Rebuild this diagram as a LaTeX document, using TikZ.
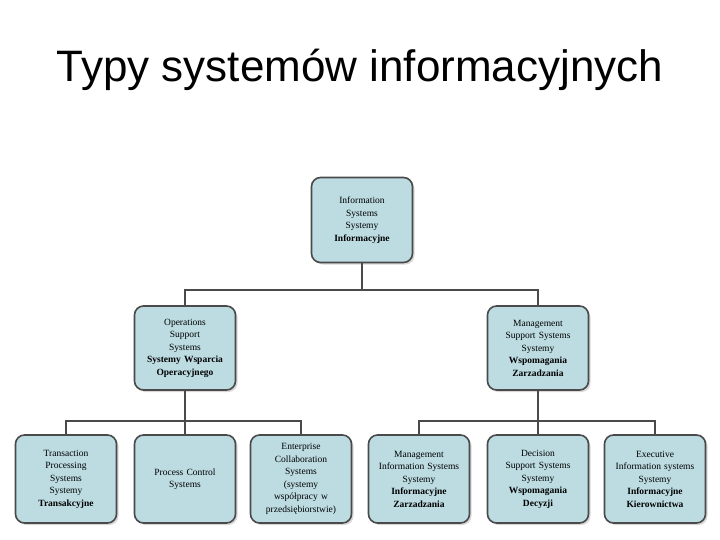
\documentclass[tikz,border=0pt]{standalone}
\usepackage{fontspec}
\setmainfont{Liberation Serif}
\newfontfamily\titlefont{Liberation Sans}
\usetikzlibrary{shadows}
\definecolor{boxfill}{HTML}{BCDCE2}
\definecolor{edge}{HTML}{4A4A4A}
\tikzset{
  sysbox/.style={draw=edge, line width=1.6pt, fill=boxfill, rounded corners=9pt,
    minimum width=101pt, text width=99pt, align=center, font=\fontsize{9.5}{12.5}\selectfont,
    inner sep=1pt, drop shadow={shadow xshift=2pt, shadow yshift=-2pt, fill=gray!60}},
  link/.style={draw=edge, line width=1.6pt}
}
\begin{document}
\begin{tikzpicture}[x=1pt,y=-1pt]
\useasboundingbox (0,0) rectangle (720,540);
\node[font=\titlefont\fontsize{44}{48}\selectfont] (title) at (360,70) {Typy systemów informacyjnych};
\node[sysbox, minimum height=85pt] (is) at (362,220) {Information\\Systems\\Systemy\\\textbf{Informacyjne}};
\node[sysbox, minimum height=84pt] (oss) at (185,348) {Operations\\Support\\Systems\\\textbf{Systemy Wsparcia}\\\textbf{Operacyjnego}};
\node[sysbox, minimum height=84pt] (mss) at (538,348) {Management\\Support Systems\\Systemy\\\textbf{Wspomagania}\\\textbf{Zarzadzania}};
\node[sysbox, minimum height=88pt] (tps) at (66,479) {Transaction\\Processing\\Systems\\Systemy\\\textbf{Transakcyjne}};
\node[sysbox, minimum height=88pt] (pcs) at (185,479) {Process Control\\Systems};
\node[sysbox, minimum height=88pt] (ecs) at (301,479) {Enterprise\\Collaboration\\Systems\\(systemy\\współpracy w\\przedsiębiorstwie)};
\node[sysbox, minimum height=88pt] (mis) at (419,479) {Management\\Information Systems\\Systemy\\\textbf{Informacyjne}\\\textbf{Zarzadzania}};
\node[sysbox, minimum height=88pt] (dss) at (538,479) {Decision\\Support Systems\\Systemy\\\textbf{Wspomagania}\\\textbf{Decyzji}};
\node[sysbox, minimum height=88pt] (eis) at (655,479) {Executive\\Information systems\\Systemy\\\textbf{Informacyjne}\\\textbf{Kierownictwa}};
\coordinate (j1) at (362,290);
\coordinate (j2) at (185,421);
\coordinate (j3) at (538,421);
\draw[link] (is.south) -- (j1);
\draw[link] (oss.north) |- (j1) -| (mss.north);
\draw[link] (oss.south) -- (pcs.north);
\draw[link] (tps.north) |- (j2) -| (ecs.north);
\draw[link] (mss.south) -- (dss.north);
\draw[link] (mis.north) |- (j3) -| (eis.north);
\end{tikzpicture}
\end{document}
